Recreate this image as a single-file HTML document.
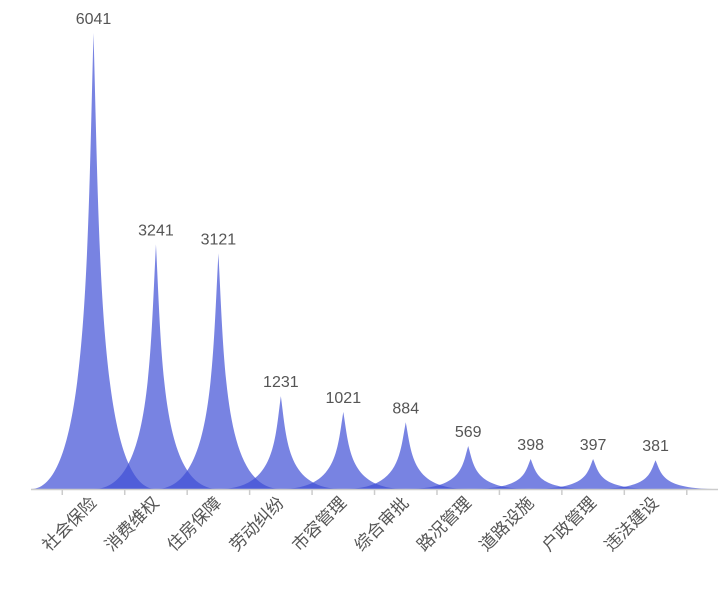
<!DOCTYPE html>
<html><head><meta charset="utf-8"><style>
html,body{margin:0;padding:0;background:#fff;}
svg text{font-family:"Liberation Sans","Noto Sans CJK SC",sans-serif;fill:#555;}
</style></head><body>
<svg id="chart" width="723" height="599" xmlns="http://www.w3.org/2000/svg"></svg>
<script>
const categories = ["社会保险","消费维权","住房保障","劳动纠纷","市容管理","综合审批","路况管理","道路设施","户政管理","违法建设"];
const values = [6041,3241,3121,1231,1021,884,569,398,397,381];
const svg = document.getElementById('chart');
const NS = 'http://www.w3.org/2000/svg';
const baseY = 489, band = 62.45, firstCenter = 93.5;
const pxPerUnit = 456 / 6041;
function xScale(i){ return firstCenter + i*band; }
function yScale(v){ return baseY - v*pxPerUnit; }
function mk(tag, attrs){ const e=document.createElementNS(NS,tag); for(const k in attrs) e.setAttribute(k,attrs[k]); svg.appendChild(e); return e; }
// spikes
values.forEach((v,i)=>{
  const cx = xScale(i), top = yScale(v), w = band*2, h = baseY-top, l = cx - w/2;
  const X = t => l + t*w/10, Y = t => top + t*h/10;
  const d = `M${X(0)},${Y(10)} L${X(10)},${Y(10)} C${X(5.5)},${Y(10)} ${X(5.5)},${Y(5)} ${X(5)},${Y(0)} C${X(4.5)},${Y(5)} ${X(4.5)},${Y(10)} ${X(0)},${Y(10)} Z`;
  const p = mk('path',{d:d,fill:'rgb(62,79,214)','fill-opacity':0.7});
  
  
  const t = mk('text',{x:cx,y:top-9,'text-anchor':'middle','font-size':16});
  t.textContent = v;
  
  
});
// axis
const ax = mk('line',{x1:31,y1:489.5,x2:718,y2:489.5,stroke:'#ccc','stroke-width':1.5});


for(let i=0;i<=10;i++){
  const tx = xScale(i) - band/2;
  const tk = mk('line',{x1:tx,y1:489,x2:tx,y2:495,stroke:'#ccc','stroke-width':1.5});
  
  
}
categories.forEach((c,i)=>{
  const cx = xScale(i)+4, cy = 504;
  const t = mk('text',{x:cx,y:cy,'text-anchor':'end','font-size':17,transform:`rotate(-45 ${cx} ${cy})`});
  t.textContent = c;
  
  
});
</script>
</body></html>
